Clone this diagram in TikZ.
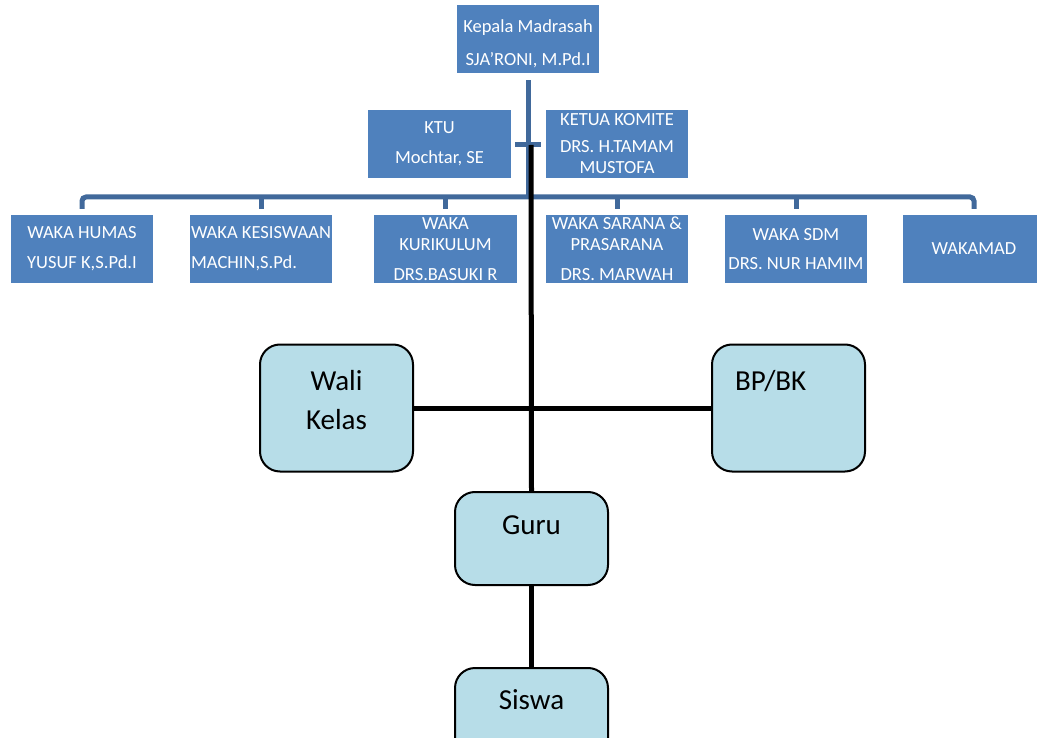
\documentclass[tikz,border=0pt]{standalone}
\usepackage{fontspec}
\setmainfont{Carlito}
\usepackage{tikz}
\definecolor{boxblue}{HTML}{4F81BD}
\definecolor{lineblue}{HTML}{41699B}
\definecolor{paleblue}{HTML}{B7DDE8}
\tikzset{
  staffbox/.style={fill=boxblue, text=white, minimum width=142pt, minimum height=68pt,
    align=center, inner sep=1pt, font=\fontsize{18.5}{21}\selectfont},
  unitbox/.style={draw=black, line width=2pt, fill=paleblue, rounded corners=20pt,
    minimum width=153pt, minimum height=127pt, inner sep=0pt, align=center,
    font=\fontsize{29}{39}\selectfont},
  orgline/.style={draw=lineblue, line width=5pt},
  link/.style={draw=black, line width=5pt},
}

\begin{document}
\begin{tikzpicture}[x=1pt,y=-1pt]
\useasboundingbox[fill=white] (0,0) rectangle (1037,738);

\node[staffbox, text height=53pt, text depth=0pt] (kepala) at (528,39) {Kepala Madrasah\\[12pt]SJA’RONI, M.Pd.I};
\node[staffbox, minimum width=143pt] (ktu) at (439.5,144) {KTU\\[9pt]Mochtar, SE};
\node[staffbox] (komite) at (617,144) {KETUA KOMITE\\[6pt]DRS. H.TAMAM\\MUSTOFA};

\node[staffbox] (humas) at (82,249) {WAKA HUMAS\\[9pt]YUSUF K,S.Pd.I};
\node[staffbox, align=left, inner xsep=0pt] (kesiswaan) at (261,249) {WAKA KESISWAAN\\[9pt]MACHIN,S.Pd.};
\node[staffbox, minimum width=143pt] (kurikulum) at (445.5,249) {WAKA\\KURIKULUM\\[9pt]DRS.BASUKI R};
\node[staffbox] (sarana) at (617,249) {WAKA SARANA \&\\PRASARANA\\[9pt]DRS. MARWAH};
\node[staffbox] (sdm) at (796,249) {WAKA SDM\\[8pt]DRS. NUR HAMIM};
\node[staffbox] (wakamad) at (974,249) {WAKAMAD};

\node[unitbox, text height=62pt, text depth=20pt] (wali) at (336.5,408) {Wali\\Kelas};
\node[unitbox, text width=107pt, align=left, text height=20pt, text depth=56pt] (bpbk) at (788.5,408) {BP/BK};
\node[unitbox, minimum height=93pt, text height=20pt, text depth=29pt] (guru) at (531.5,538.5) {Guru};
\node[unitbox, minimum height=93pt, text height=20pt, text depth=31pt] (siswa) at (531.5,714.5) {Siswa};

\coordinate (hub) at (528,197);
\coordinate (stubL) at (515,145);
\coordinate (stubR) at (541,145);
\coordinate (spine) at (531,145);

\draw[orgline] ([yshift=-7pt]kepala.south) -- (hub);
\draw[orgline] (stubL) -- (stubR);
\draw[orgline, rounded corners=4pt] ([yshift=6pt]humas.north) |- (hub) -| ([yshift=6pt]wakamad.north);
\foreach \n in {kesiswaan,kurikulum,sarana,sdm}
  \draw[orgline] (hub -| \n.north) -- ([yshift=6pt]\n.north);

\draw[link] (spine) -- (guru.north);
\draw[link] (wali.east) -- (bpbk.west);
\draw[link] (guru.south) -- (siswa.north);
\end{tikzpicture}
\end{document}
